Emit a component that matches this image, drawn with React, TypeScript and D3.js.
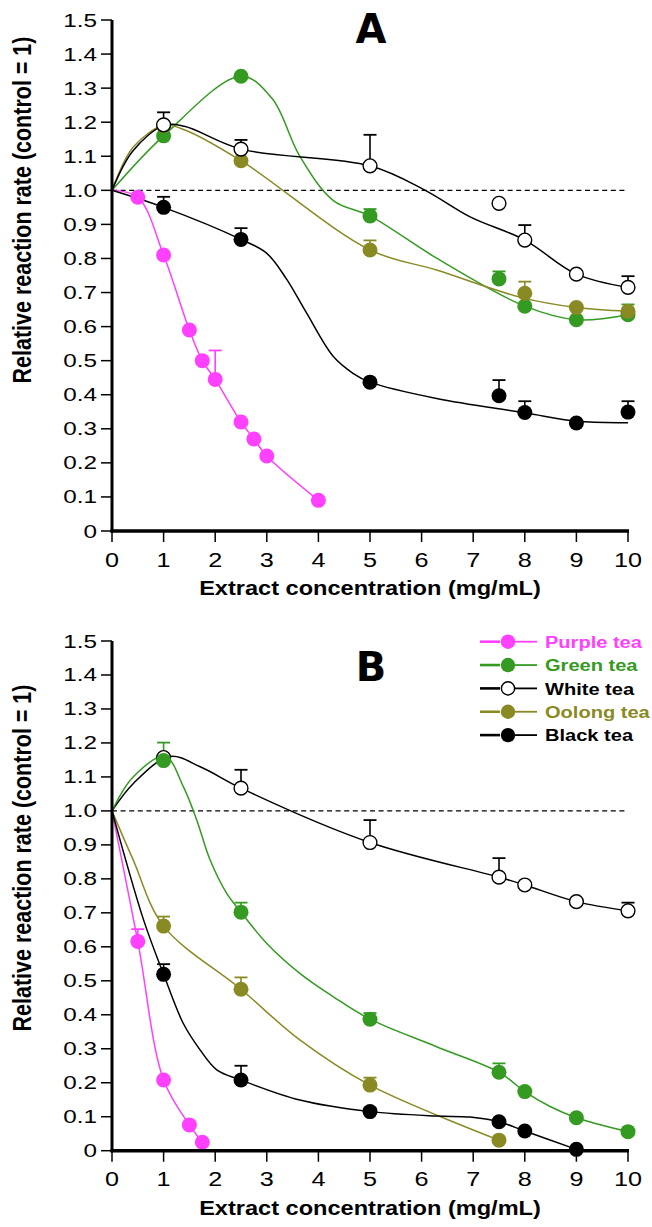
import React from 'react';
import * as d3 from 'd3';

// ---------- categories / styles ----------
const SERIES = ['Purple tea', 'Green tea', 'White tea', 'Oolong tea', 'Black tea'];
const COLORS = ['#ff40ff', '#359a22', '#000000', '#8a8a24', '#000000'];
const FILLS = ['#ff40ff', '#359a22', '#ffffff', '#8a8a24', '#000000'];

const X_TICKS = [0, 1, 2, 3, 4, 5, 6, 7, 8, 9, 10];
const Y_TICKS = [0, 0.1, 0.2, 0.3, 0.4, 0.5, 0.6, 0.7, 0.8, 0.9, 1.0, 1.1, 1.2, 1.3, 1.4, 1.5];
const Y_TICK_LABELS = ['0', '0.1', '0.2', '0.3', '0.4', '0.5', '0.6', '0.7', '0.8', '0.9', '1.0', '1.1', '1.2', '1.3', '1.4', '1.5'];

// ---------- Panel A: measured points [conc, rate] ----------
const A_PURPLE = [[0.5, 0.98], [1, 0.81], [1.5, 0.59], [1.75, 0.5], [2, 0.445], [2.5, 0.32], [2.75, 0.27], [3, 0.22], [4, 0.09]];
const A_GREEN = [[1, 1.16], [2.5, 1.335], [5, 0.925], [7.5, 0.74], [8, 0.66], [9, 0.62], [10, 0.635]];
const A_WHITE = [[1, 1.192], [2.5, 1.121], [5, 1.072], [7.5, 0.962], [8, 0.854], [9, 0.754], [10, 0.715]];
const A_OOLONG = [[1, 1.19], [2.5, 1.087], [5, 0.825], [8, 0.698], [9, 0.656], [10, 0.645]];
const A_BLACK = [[1, 0.95], [2.5, 0.856], [5, 0.437], [7.5, 0.397], [8, 0.348], [9, 0.317], [10, 0.349]];

// Panel A: error bar tops [conc, top]
const A_PURPLE_ERR = [[2, 0.53]];
const A_GREEN_ERR = [[5, 0.945], [7.5, 0.762], [10, 0.665]];
const A_WHITE_ERR = [[1, 1.229], [2.5, 1.148], [5, 1.163], [8, 0.898], [10, 0.748]];
const A_OOLONG_ERR = [[5, 0.853], [8, 0.732]];
const A_BLACK_ERR = [[1, 0.981], [2.5, 0.889], [7.5, 0.443], [8, 0.381], [10, 0.381]];

// Panel A: fitted curves (knots)
const A_PURPLE_FIT = [[0, 1], [0.5, 0.98], [1, 0.81], [1.5, 0.59], [1.75, 0.5], [2, 0.445], [2.5, 0.32], [2.75, 0.27], [3, 0.22], [4, 0.09]];
const A_GREEN_FIT = [[0, 1], [1, 1.16], [2.5, 1.335], [3.1, 1.27], [3.64, 1.1], [4.29, 0.97], [5, 0.925], [6.3, 0.8], [8, 0.66], [9, 0.62], [10, 0.635]];
const A_WHITE_FIT = [[0, 1], [0.4, 1.115], [1, 1.19], [1.4, 1.188], [2.5, 1.121], [5, 1.072], [6.07, 1.0], [6.94, 0.922], [8, 0.854], [9, 0.754], [10, 0.715]];
const A_OOLONG_FIT = [[0, 1], [0.4, 1.125], [1, 1.19], [1.4, 1.178], [2.5, 1.087], [5, 0.825], [6.29, 0.766], [7.94, 0.685], [9, 0.656], [10, 0.645]];
const A_BLACK_FIT = [[0, 1], [1, 0.95], [2.5, 0.856], [3, 0.815], [3.38, 0.74], [3.77, 0.64], [4.29, 0.512], [4.67, 0.463], [5, 0.437], [6.29, 0.389], [8, 0.347], [9, 0.322], [10, 0.318]];

// ---------- Panel B: measured points ----------
const B_PURPLE = [[0.5, 0.616], [1, 0.208], [1.5, 0.076], [1.75, 0.025]];
const B_GREEN = [[1, 1.148], [2.5, 0.702], [5, 0.387], [7.5, 0.231], [8, 0.174], [9, 0.097], [10, 0.056]];
const B_WHITE = [[1, 1.157], [2.5, 1.067], [5, 0.907], [7.5, 0.805], [8, 0.782], [9, 0.733], [10, 0.706]];
const B_OOLONG = [[1, 0.661], [2.5, 0.475], [5, 0.193], [7.5, 0.031]];
const B_BLACK = [[1, 0.519], [2.5, 0.208], [5, 0.115], [7.5, 0.085], [8, 0.058], [9, 0.004]];

const B_PURPLE_ERR = [[0.5, 0.652]];
const B_GREEN_ERR = [[1, 1.201], [2.5, 0.73], [5, 0.405], [7.5, 0.257]];
const B_WHITE_ERR = [[2.5, 1.121], [5, 0.973], [7.5, 0.861], [10, 0.73]];
const B_OOLONG_ERR = [[1, 0.689], [2.5, 0.51], [5, 0.215]];
const B_BLACK_ERR = [[1, 0.549], [2.5, 0.25], [5, 0.125]];

const B_PURPLE_FIT = [[0, 1], [0.5, 0.616], [1, 0.208], [1.5, 0.076], [1.75, 0.025]];
const B_GREEN_FIT = [[0, 1], [0.41, 1.1], [1.03, 1.16], [1.38, 1.072], [1.64, 0.974], [1.9, 0.856], [2.22, 0.758], [2.5, 0.702], [3, 0.61], [3.64, 0.522], [4.29, 0.453], [5, 0.387], [6.29, 0.306], [7.5, 0.231], [8, 0.174], [8.49, 0.13], [9, 0.097], [10, 0.056]];
const B_WHITE_FIT = [[0, 1], [0.41, 1.08], [1.12, 1.16], [1.71, 1.13], [2.5, 1.067], [5, 0.907], [7.5, 0.805], [8, 0.782], [9, 0.733], [10, 0.706]];
const B_OOLONG_FIT = [[0, 1], [0.41, 0.856], [1, 0.661], [2.5, 0.475], [3.64, 0.326], [5, 0.193], [7.5, 0.031]];
const B_BLACK_FIT = [[0, 1], [0.61, 0.68], [1, 0.519], [1.38, 0.375], [1.71, 0.296], [2.03, 0.238], [2.5, 0.208], [3.64, 0.149], [5, 0.115], [6.29, 0.102], [6.94, 0.099], [7.5, 0.085], [8, 0.058], [9, 0.004]];

const PANEL_A = {
  pts: [A_PURPLE, A_GREEN, A_WHITE, A_OOLONG, A_BLACK],
  err: [A_PURPLE_ERR, A_GREEN_ERR, A_WHITE_ERR, A_OOLONG_ERR, A_BLACK_ERR],
  fit: [A_PURPLE_FIT, A_GREEN_FIT, A_WHITE_FIT, A_OOLONG_FIT, A_BLACK_FIT],
  order: [0, 1, 3, 4, 2],
};
const PANEL_B = {
  pts: [B_PURPLE, B_GREEN, B_WHITE, B_OOLONG, B_BLACK],
  err: [B_PURPLE_ERR, B_GREEN_ERR, B_WHITE_ERR, B_OOLONG_ERR, B_BLACK_ERR],
  fit: [B_PURPLE_FIT, B_GREEN_FIT, B_WHITE_FIT, B_OOLONG_FIT, B_BLACK_FIT],
  order: [2, 0, 1, 3, 4],
};

const FONT = "'Liberation Sans', Arial, sans-serif";
const SX = 1.2; // horizontal glyph stretch of the reference

const x = d3.scaleLinear().domain([0, 10]).range([112, 628]);

function Panel({ data, top, bottom, letter, letterY, ylabelCY, legend }: any) {
  const y = d3.scaleLinear().domain([0, 1.5]).range([bottom, top]);
  const line = d3.line<number[]>().x((d) => x(d[0])).y((d) => y(d[1])).curve(d3.curveCatmullRom.alpha(0.5));
  const R = 7.5;
  return (
    <g>
      {/* dashed control line */}
      <line x1={x(0)} x2={x(10)} y1={y(1)} y2={y(1)} stroke="#000" strokeWidth={1.4} strokeDasharray="5,3.6" />
      {/* fits */}
      {data.order.map((i: number) => (
        <path key={'f' + i} d={line(data.fit[i]) || ''} fill="none" stroke={COLORS[i]} strokeWidth={1.5} />
      ))}
      {/* error bars */}
      {data.order.map((i: number) => (
        <g key={'e' + i}>
          {data.err[i].map((e: number[], k: number) => {
            const p = data.pts[i].find((q: number[]) => q[0] === e[0]);
            return (
              <g key={k}>
                <line x1={x(e[0])} x2={x(e[0])} y1={y(p ? p[1] : e[1])} y2={y(e[1])} stroke={COLORS[i]} strokeWidth={1.6} />
                <line x1={x(e[0]) - 6.5} x2={x(e[0]) + 6.5} y1={y(e[1])} y2={y(e[1])} stroke={COLORS[i]} strokeWidth={1.8} />
              </g>
            );
          })}
        </g>
      ))}
      {/* markers */}
      {data.order.map((i: number) => (
        <g key={'m' + i}>
          {data.pts[i].map((p: number[], k: number) => (
            <circle key={k} cx={x(p[0])} cy={y(p[1])} r={i === 2 ? R - 0.6 : R}
              fill={FILLS[i]} stroke={i === 2 ? '#000' : 'none'} strokeWidth={1.4} />
          ))}
        </g>
      ))}
      {/* axes */}
      <line x1={x(0)} x2={x(0)} y1={y(0) + 1.5} y2={y(1.5)} stroke="#000" strokeWidth={3} />
      <line x1={x(0) - 1.5} x2={x(10) + 1} y1={y(0)} y2={y(0)} stroke="#000" strokeWidth={3.5} />
      {Y_TICKS.map((t, k) => (
        <g key={'yt' + k}>
          <line x1={x(0) - 11} x2={x(0)} y1={y(t)} y2={y(t)} stroke="#000" strokeWidth={1.5} />
          <text transform={`translate(${x(0) - 15},${y(t) + 6.5}) scale(1.35,1)`} textAnchor="end"
            fontFamily={FONT} fontSize={18} fill="#000">{Y_TICK_LABELS[k]}</text>
        </g>
      ))}
      {X_TICKS.map((t) => (
        <g key={'xt' + t}>
          <line x1={x(t)} x2={x(t)} y1={y(0)} y2={y(0) + 11} stroke="#000" strokeWidth={1.5} />
          <text transform={`translate(${x(t)},${y(0) + 35.5}) scale(${SX},1)`} textAnchor="middle"
            fontFamily={FONT} fontSize={21} fill="#000">{t}</text>
        </g>
      ))}
      <text transform={`translate(${(x(0) + x(10)) / 2},${y(0) + 64}) scale(1.15,1)`} textAnchor="middle"
        fontFamily={FONT} fontWeight="bold" fontSize={20.5} fill="#000">Extract concentration (mg/mL)</text>
      <text transform={`translate(31,${ylabelCY}) rotate(-90) scale(1,1.2)`} textAnchor="middle"
        fontFamily={FONT} fontWeight="bold" fontSize={21.5} fill="#000">Relative reaction rate (control = 1)</text>
      <text x={371} y={letterY} textAnchor="middle" fontFamily="'DejaVu Sans', sans-serif" fontWeight="bold"
        fontSize={40} fill="#000">{letter}</text>
      {legend && SERIES.map((s, i) => {
        const ly = 641.7 + i * 23.35;
        return (
          <g key={'lg' + i}>
            <line x1={480} x2={500} y1={ly} y2={ly} stroke={COLORS[i]} strokeWidth={2.6} />
            <line x1={515} x2={537} y1={ly} y2={ly} stroke={COLORS[i]} strokeWidth={1.8} />
            <circle cx={508} cy={ly} r={i === 2 ? 6.6 : 7.2} fill={FILLS[i]} stroke={i === 2 ? '#000' : 'none'} strokeWidth={1.4} />
            <text transform={`translate(545,${ly + 6.2}) scale(1.18,1)`} fontFamily={FONT} fontWeight="bold"
              fontSize={17} fill={COLORS[i]}>{s}</text>
          </g>
        );
      })}
    </g>
  );
}

export default function App() {
  return (
    <svg width={652} height={1227} viewBox="0 0 652 1227"
      style={{ position: 'absolute', left: 0, top: 0, background: '#fff' }}>
      <rect x={0} y={0} width={652} height={1227} fill="#fff" />
      <Panel data={PANEL_A} top={20} bottom={531} letter="A" letterY={43} ylabelCY={210} legend={false} />
      <Panel data={PANEL_B} top={641} bottom={1150.7} letter="B" letterY={681} ylabelCY={858} legend={true} />
    </svg>
  );
}
